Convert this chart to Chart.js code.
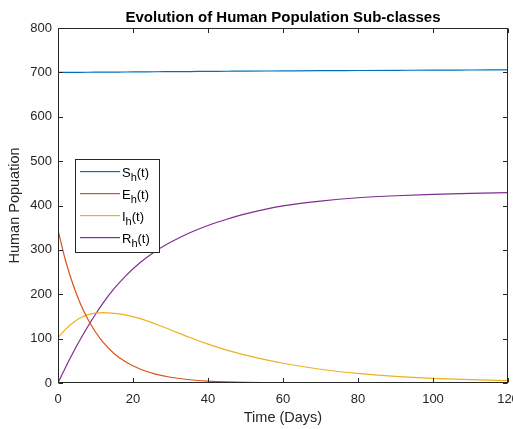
<!DOCTYPE html>
<html>
<head>
<meta charset="utf-8">
<script src="https://cdn.jsdelivr.net/npm/chart.js@4.4.1/dist/chart.umd.min.js"></script>
<style>
  body { margin: 0; background: #fff; }
  #wrap { width: 513px; height: 429px; }
</style>
</head>
<body>
<div id="wrap"><canvas id="myChart" width="513" height="429"></canvas></div>
<script>
// time points (days) and the four sub-classes
var days = [0, 2, 4, 6, 8, 10, 12, 15, 18, 22, 26, 30, 35, 40, 45, 50, 60, 70, 80, 90, 100, 110, 120];
var susceptible = [700, 700, 700.1, 700.2, 700.3, 700.4, 700.5, 700.7, 700.9, 701.1, 701.4, 701.6, 701.9, 702.2, 702.5, 702.8, 703.3, 703.8, 704.2, 704.6, 705, 705.3, 705.6];
var exposed = [345, 276, 222, 178, 143, 115, 92, 66, 48, 31, 20, 13, 7.3, 4.2, 2.4, 1.4, 0.5, 0.2, 0.05, 0, 0, 0, 0];
var infected = [102, 121, 136, 147, 154, 157.5, 158.5, 157, 153.5, 145, 133, 120, 103, 87.5, 74, 63, 44.5, 31, 21.5, 15, 10.5, 7.5, 5.5];
var recovered = [0, 35, 68, 99, 128, 155, 180, 213, 241, 272, 297, 317, 338, 355, 369, 381, 399, 410, 417.5, 422, 425, 427.5, 429];

var seriesLabels = ['S', 'E', 'I', 'R'];
var seriesColors = ['#0072BD', '#D95319', '#EDB120', '#7E2F8E'];
var xTicks = [0, 20, 40, 60, 80, 100, 120];
var yTicks = [0, 100, 200, 300, 400, 500, 600, 700, 800];

var axisColor = '#262626';
var fontFamily = '"Liberation Sans", Arial, Helvetica, sans-serif';

function toPoints(arr) {
  return arr.map(function (v, i) { return { x: days[i], y: v }; });
}

// box around the axes with inward ticks, like MATLAB
var boxPlugin = {
  id: 'boxPlugin',
  afterDatasetsDraw: function (chart) {
    var ctx = chart.ctx, a = chart.chartArea;
    var xs = chart.scales.x, ys = chart.scales.y;
    var l = Math.round(a.left) + 0.5, r = Math.round(a.right) - 0.5;
    var t = Math.round(a.top) + 0.5, b = Math.round(a.bottom) - 0.5;
    ctx.save();
    ctx.strokeStyle = axisColor;
    ctx.lineWidth = 1;
    ctx.strokeRect(l, t, r - l, b - t);
    ctx.beginPath();
    xTicks.forEach(function (v) {
      var px = Math.round(xs.getPixelForValue(v)) + 0.5;
      ctx.moveTo(px, b); ctx.lineTo(px, b - 4.5);
      ctx.moveTo(px, t); ctx.lineTo(px, t + 4.5);
    });
    yTicks.forEach(function (v) {
      var py = Math.round(ys.getPixelForValue(v)) + 0.5;
      ctx.moveTo(l, py); ctx.lineTo(l + 4.5, py);
      ctx.moveTo(r, py); ctx.lineTo(r - 4.5, py);
    });
    ctx.stroke();
    ctx.restore();
  },
  afterDraw: function (chart) {
    // legend with subscripts
    var ctx = chart.ctx;
    var bx = 75.5, by = 159.5, bw = 84, bh = 93;
    ctx.save();
    ctx.fillStyle = '#fff';
    ctx.fillRect(bx, by, bw, bh);
    ctx.strokeStyle = axisColor;
    ctx.lineWidth = 1;
    ctx.strokeRect(bx, by, bw, bh);
    for (var i = 0; i < seriesLabels.length; i++) {
      var lab = seriesLabels[i];
      var y = 171 + i * 22;
      ctx.fillStyle = seriesColors[i];
      ctx.fillRect(80, y, 40, 1.2);
      ctx.fillStyle = '#000';
      ctx.textBaseline = 'alphabetic';
      ctx.textAlign = 'left';
      var x = 122;
      ctx.font = '13px ' + fontFamily;
      ctx.fillText(lab, x, y + 5.5);
      x += ctx.measureText(lab).width;
      ctx.font = '11px ' + fontFamily;
      ctx.fillText('h', x, y + 9.5);
      x += ctx.measureText('h').width;
      ctx.font = '13px ' + fontFamily;
      ctx.fillText('(t)', x, y + 5.5);
    }
    ctx.restore();
  }
};

window.onload = function () {
  var ctx = document.getElementById('myChart');
  var datasets = [susceptible, exposed, infected, recovered].map(function (arr, i) {
    return {
      label: seriesLabels[i] + 'h(t)',
      data: toPoints(arr),
      borderColor: seriesColors[i],
      backgroundColor: seriesColors[i],
      borderWidth: 1.2,
      pointRadius: 0,
      cubicInterpolationMode: 'monotone',
      fill: false
    };
  });

  new Chart(ctx, {
    type: 'line',
    data: { datasets: datasets },
    options: {
      responsive: false,
      animation: false,
      layout: { padding: { left: 0, right: 5, top: 0, bottom: 0 } },
      plugins: {
        legend: { display: false },
        tooltip: { enabled: false },
        title: {
          display: true,
          text: 'Evolution of Human Population Sub-classes',
          color: '#000',
          fullSize: false,
          font: { family: fontFamily, size: 15, weight: 'bold' },
          padding: { top: 9, bottom: 1 }
        }
      },
      scales: {
        x: {
          type: 'linear',
          min: 0, max: 120,
          afterFit: function (s) { s.height = 46; s.paddingLeft = 0; s.paddingRight = 0; },
          afterBuildTicks: function (s) { s.ticks = xTicks.map(function (v) { return { value: v }; }); },
          grid: { display: false, drawTicks: false },
          border: { display: false },
          ticks: { color: axisColor, padding: 9, maxRotation: 0, autoSkip: false,
                   font: { family: fontFamily, size: 13 } },
          title: { display: true, text: 'Time (Days)', color: axisColor,
                   font: { family: fontFamily, size: 14.5 }, padding: { top: 0, bottom: 2 } }
        },
        y: {
          min: 0, max: 800,
          afterFit: function (s) { s.width = 58; s.paddingTop = 0; s.paddingBottom = 0; },
          afterBuildTicks: function (s) { s.ticks = yTicks.map(function (v) { return { value: v }; }); },
          grid: { display: false, drawTicks: false },
          border: { display: false },
          ticks: { color: axisColor, padding: 6, autoSkip: false,
                   font: { family: fontFamily, size: 13 } },
          title: { display: true, text: 'Human Popuation', color: axisColor,
                   font: { family: fontFamily, size: 14.5 }, padding: { top: 6, bottom: 0 } }
        }
      }
    },
    plugins: [boxPlugin]
  });
};
</script>
</body>
</html>
